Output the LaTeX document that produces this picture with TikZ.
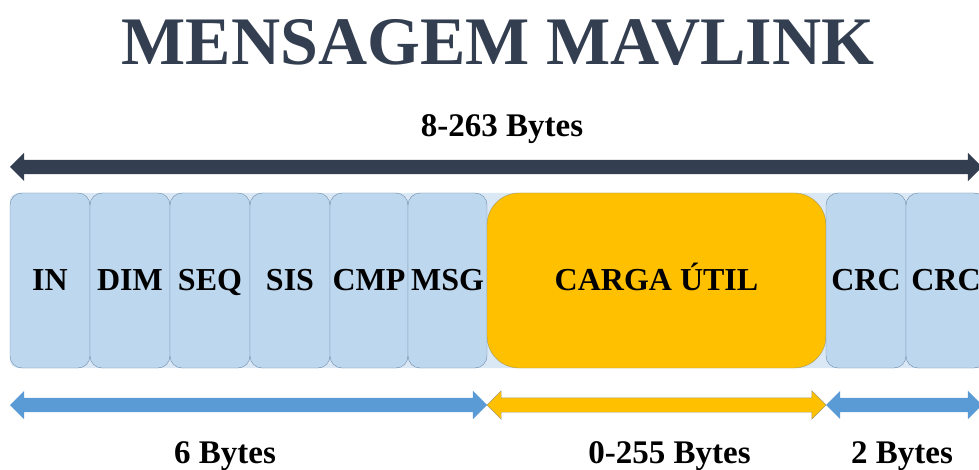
\documentclass[tikz,border=0pt]{standalone}
\usepackage{fontspec}
\setmainfont{Liberation Serif}
\usetikzlibrary{positioning,shapes.arrows}
\definecolor{azulescuro}{HTML}{333F50}
\definecolor{azulseta}{HTML}{5B9BD5}
\definecolor{azulcampo}{HTML}{BDD7EE}
\definecolor{bordacampo}{HTML}{6F8AA8}
\definecolor{fundo}{HTML}{DAE8F5}
\definecolor{amarelo}{HTML}{FFC000}
\definecolor{bordacarga}{HTML}{A09A70}

\begin{document}
\begin{tikzpicture}[x=1pt,y=-1pt,
   campo/.style={draw=bordacampo,fill=azulcampo,rounded corners=12pt,minimum width=80pt,
     minimum height=175pt,inner sep=0pt,outer sep=0pt,text height=19pt,text depth=0pt,
     font=\fontsize{32}{36}\selectfont\bfseries},
   carga/.style={campo,fill=amarelo,draw=bordacarga,rounded corners=32pt,minimum width=339pt},
   seta/.style={double arrow,inner xsep=0pt,inner ysep=7pt,double arrow head extend=7pt},
   rotulo/.style={font=\fontsize{33}{36}\selectfont\bfseries}]

  \useasboundingbox (0,0) rectangle (979,470);

  \node[font=\fontsize{68}{72}\selectfont\bfseries,text=azulescuro] (titulo) at (498,43) {MENSAGEM MAVLINK};
  \node[rotulo] (total) at (502,129) {8-263 Bytes};
  \node[seta,fill=azulescuro,minimum height=972pt] (setatotal) at (496,167) {};

  % quadro da mensagem
  \fill[fundo,rounded corners=8pt] (10,193) rectangle (990,368);
  \node[campo,anchor=west] (in) at (10,280.5) {IN};
  \node[campo,right=0pt of in] (dim) {DIM};
  \node[campo,right=0pt of dim] (seq) {SEQ};
  \node[campo,right=0pt of seq] (sis) {SIS};
  \node[campo,right=0pt of sis,minimum width=78pt] (cmp) {CMP};
  \node[campo,right=0pt of cmp,minimum width=79pt] (msg) {MSG};
  \node[carga,right=0pt of msg] (carga) {CARGA ÚTIL};
  \node[campo,right=0pt of carga] (crca) {CRC};
  \node[campo,right=0pt of crca] (crcb) {CRC};

  % tamanhos
  \node[seta,fill=azulseta,minimum height=477pt] (setacab) at (248.5,405) {};
  \node[seta,fill=amarelo,draw=bordacarga,minimum height=339pt] (setacarga) at (656.5,405) {};
  \node[seta,fill=azulseta,minimum height=156pt] (setacrc) at (904,405) {};

  \node[rotulo] (cab) at (225,456) {6 Bytes};
  \node[rotulo] (tamcarga) at (669.5,456) {0-255 Bytes};
  \node[rotulo] (tamcrc) at (902,456) {2 Bytes};
\end{tikzpicture}
\end{document}
